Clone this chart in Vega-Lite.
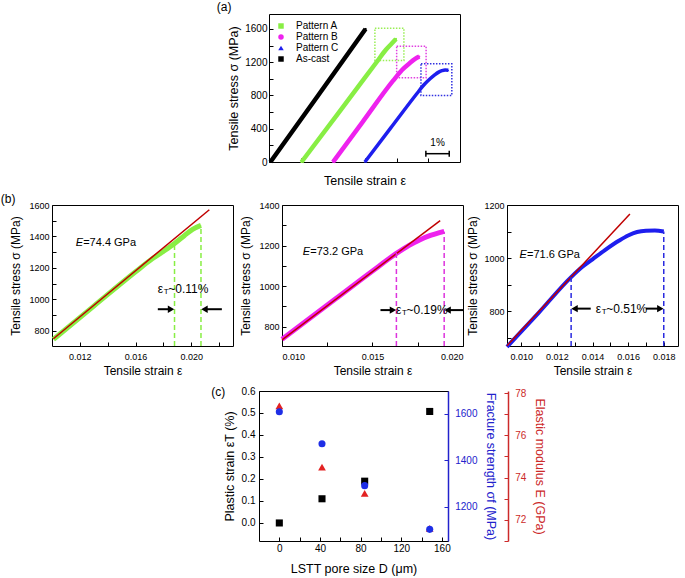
{
 "$schema": "https://vega.github.io/schema/vega-lite/v6.json",
 "background": "white",
 "padding": {"left": 0, "top": 0, "right": 0, "bottom": 0},
 "autosize": {"type": "pad"},
 "config": {
  "font": "Liberation Sans",
  "view": {"stroke": "black", "strokeWidth": 1},
  "axis": {"domain": false, "grid": false, "tickSize": -4, "tickColor": "black", "tickWidth": 1, "labelPadding": 7, "labelFontSize": 10, "labelColor": "black", "labelOverlap": false, "titleFontSize": 12.5, "titleFontWeight": "normal", "titleColor": "black", "labelFont": "Liberation Sans", "titleFont": "Liberation Sans"},
  "text": {"font": "Liberation Sans", "color": "black"},
  "legend": {"labelFont": "Liberation Sans"}
 },
 "datasets": {
  "aCurves": [
   {"s": "As-cast", "x": 0.06, "y": 0}, {"s": "As-cast", "x": 2.1, "y": 800}, {"s": "As-cast", "x": 4.13, "y": 1600},
   {"s": "Pattern A", "x": 1.39, "y": 0}, {"s": "Pattern A", "x": 3.0, "y": 600}, {"s": "Pattern A", "x": 4.6, "y": 1200}, {"s": "Pattern A", "x": 5.0, "y": 1350}, {"s": "Pattern A", "x": 5.25, "y": 1425}, {"s": "Pattern A", "x": 5.43, "y": 1480},
   {"s": "Pattern B", "x": 2.74, "y": 0}, {"s": "Pattern B", "x": 4.0, "y": 480}, {"s": "Pattern B", "x": 5.3, "y": 975}, {"s": "Pattern B", "x": 5.7, "y": 1110}, {"s": "Pattern B", "x": 6.0, "y": 1185}, {"s": "Pattern B", "x": 6.25, "y": 1240}, {"s": "Pattern B", "x": 6.43, "y": 1268},
   {"s": "Pattern C", "x": 4.1, "y": 0}, {"s": "Pattern C", "x": 5.2, "y": 407}, {"s": "Pattern C", "x": 6.32, "y": 821}, {"s": "Pattern C", "x": 6.6, "y": 920}, {"s": "Pattern C", "x": 6.89, "y": 1001}, {"s": "Pattern C", "x": 7.1, "y": 1050}, {"s": "Pattern C", "x": 7.24, "y": 1078}, {"s": "Pattern C", "x": 7.4, "y": 1098}, {"s": "Pattern C", "x": 7.53, "y": 1106}, {"s": "Pattern C", "x": 7.67, "y": 1103}
  ],
  "aBoxes": [
   {"s": "Pattern A", "x1": 4.53, "x2": 5.77, "y1": 1220, "y2": 1609},
   {"s": "Pattern B", "x1": 5.46, "x2": 6.72, "y1": 1013, "y2": 1393},
   {"s": "Pattern C", "x1": 6.5, "x2": 7.82, "y1": 801, "y2": 1181}
  ],
  "b1c": [{"x": 0.0101, "y": 745}, {"x": 0.013, "y": 957}, {"x": 0.016, "y": 1175}, {"x": 0.0172, "y": 1258}, {"x": 0.018, "y": 1305}, {"x": 0.0188, "y": 1355}, {"x": 0.0195, "y": 1405}, {"x": 0.0201, "y": 1445}, {"x": 0.0207, "y": 1470}],
  "b1f": [{"x": 0.0101, "y": 749}, {"x": 0.0213, "y": 1570}],
  "b1d": [{"x": 0.0188, "y": 1355, "y0": 703}, {"x": 0.0207, "y": 1468, "y0": 703}],
  "b1a": [{"x1": 0.0176, "hx": 0.01855, "y": 937, "dir": "r"}, {"x1": 0.0222, "hx": 0.02095, "y": 937, "dir": "l"}],
  "b2c": [{"x": 0.01, "y": 738}, {"x": 0.013, "y": 940}, {"x": 0.015, "y": 1075}, {"x": 0.0163, "y": 1160}, {"x": 0.017, "y": 1200}, {"x": 0.0176, "y": 1228}, {"x": 0.0182, "y": 1250}, {"x": 0.0187, "y": 1264}, {"x": 0.01896, "y": 1270}],
  "b2f": [{"x": 0.01, "y": 735}, {"x": 0.01874, "y": 1323}],
  "b2d": [{"x": 0.01632, "y": 1163, "y0": 705}, {"x": 0.01896, "y": 1268, "y0": 705}],
  "b2a": [{"x1": 0.01544, "hx": 0.01613, "y": 882, "dir": "r"}, {"x1": 0.02, "hx": 0.01915, "y": 882, "dir": "l"}],
  "b3c": [{"x": 0.0092, "y": 665}, {"x": 0.011, "y": 795}, {"x": 0.0128, "y": 928}, {"x": 0.0134, "y": 965}, {"x": 0.014, "y": 995}, {"x": 0.0147, "y": 1030}, {"x": 0.0155, "y": 1066}, {"x": 0.016, "y": 1085}, {"x": 0.0165, "y": 1098}, {"x": 0.017, "y": 1103}, {"x": 0.0175, "y": 1104}, {"x": 0.018, "y": 1100}],
  "b3f": [{"x": 0.0092, "y": 669}, {"x": 0.0161, "y": 1166}],
  "b3d": [{"x": 0.0128, "y": 928, "y0": 668}, {"x": 0.018, "y": 1100, "y0": 668}],
  "b3a": [{"x1": 0.0139, "hx": 0.01299, "y": 809, "dir": "l"}, {"x1": 0.017, "hx": 0.01781, "y": 809, "dir": "r"}],
  "cPts": [
   {"d": 0, "p": 0.0, "f": 1608, "e": 77.4},
   {"d": 42, "p": 0.11, "f": 1470, "e": 74.5},
   {"d": 84, "p": 0.19, "f": 1290, "e": 73.25},
   {"d": 148, "p": 0.507, "f": 1102, "e": 71.6}
  ]
 },
 "vconcat": [
  {
   "vconcat": [
    {
     "hconcat": [
      {"width": 269, "height": 1, "view": {"stroke": null}, "data": {"values": []}, "mark": {"type": "point", "opacity": 0}},
      {
       "width": 191, "height": 148,
       "layer": [
        {"data": {"name": "aBoxes"},
         "mark": {"type": "rect", "fillOpacity": 0, "strokeWidth": 1.5, "strokeDash": [1.5, 1.5]},
         "encoding": {
          "x": {"field": "x1", "type": "quantitative", "scale": {"domain": [0, 8.17], "nice": false, "zero": false}, "axis": {"labels": false, "values": [1.38, 2.74, 4.1, 5.46, 6.82], "tickCount": 100, "title": "Tensile strain ε", "titlePadding": 12}},
          "x2": {"field": "x2"},
          "y": {"field": "y1", "type": "quantitative", "scale": {"domain": [0, 1780], "nice": false, "zero": false}, "axis": {"values": [0, 200, 400, 600, 800, 1000, 1200, 1400, 1600], "tickCount": 100, "format": "d", "labelExpr": "datum.value % 400 === 0 ? datum.label : ''", "labelPadding": 6, "title": "Tensile stress σ (MPa)", "titlePadding": 4}},
          "y2": {"field": "y2"},
          "stroke": {"field": "s", "type": "nominal", "scale": {"domain": ["Pattern A", "Pattern B", "Pattern C"], "range": ["#99ee55", "#e040e0", "#3030e0"]}, "legend": null}
         }},
        {"data": {"name": "aCurves"}, "transform": [{"filter": "datum.s === 'As-cast'"}], "mark": {"type": "line", "color": "#000000", "strokeWidth": 4.5}, "encoding": {"x": {"field": "x", "type": "quantitative"}, "y": {"field": "y", "type": "quantitative"}}},
        {"data": {"name": "aCurves"}, "transform": [{"filter": "datum.s === 'Pattern A'"}], "mark": {"type": "line", "color": "#88ee44", "strokeWidth": 4.5, "interpolate": "monotone"}, "encoding": {"x": {"field": "x", "type": "quantitative"}, "y": {"field": "y", "type": "quantitative"}}},
        {"data": {"name": "aCurves"}, "transform": [{"filter": "datum.s === 'Pattern B'"}], "mark": {"type": "line", "color": "#ee22ee", "strokeWidth": 4.5, "interpolate": "monotone"}, "encoding": {"x": {"field": "x", "type": "quantitative"}, "y": {"field": "y", "type": "quantitative"}}},
        {"data": {"name": "aCurves"}, "transform": [{"filter": "datum.s === 'Pattern C'"}], "mark": {"type": "line", "color": "#1e1eee", "strokeWidth": 3.5, "interpolate": "monotone"}, "encoding": {"x": {"field": "x", "type": "quantitative"}, "y": {"field": "y", "type": "quantitative"}}},
        {"data": {"name": "aCurves"}, "mark": {"type": "point", "filled": true, "size": 4, "opacity": 1},
         "encoding": {
          "x": {"field": "x", "type": "quantitative"}, "y": {"field": "y", "type": "quantitative"},
          "color": {"field": "s", "type": "nominal", "scale": {"domain": ["Pattern A", "Pattern B", "Pattern C", "As-cast"], "range": ["#88ee44", "#ee22ee", "#1e1eee", "#000000"]}, "legend": {"title": null, "orient": "top-left", "offset": 7, "padding": 0, "labelFontSize": 10, "labelOffset": 10, "symbolSize": 30, "rowPadding": 1, "symbolStrokeWidth": 0}},
          "shape": {"field": "s", "type": "nominal", "scale": {"domain": ["Pattern A", "Pattern B", "Pattern C", "As-cast"], "range": ["square", "circle", "triangle-up", "square"]}, "legend": {"title": null, "orient": "top-left", "offset": 7, "padding": 0, "labelFontSize": 10, "labelOffset": 10, "symbolSize": 30, "rowPadding": 1, "symbolStrokeWidth": 0}}
         }},
        {"data": {"values": [{"x1": 6.71, "x2": 7.71, "y": 100}]}, "mark": {"type": "rule", "color": "black", "strokeWidth": 1.5}, "encoding": {"x": {"field": "x1", "type": "quantitative"}, "x2": {"field": "x2"}, "y": {"field": "y", "type": "quantitative"}}},
        {"data": {"values": [{"x": 6.71, "y1": 64, "y2": 136}, {"x": 7.71, "y1": 64, "y2": 136}]}, "mark": {"type": "rule", "color": "black", "strokeWidth": 1.5}, "encoding": {"x": {"field": "x", "type": "quantitative"}, "y": {"field": "y1", "type": "quantitative"}, "y2": {"field": "y2"}}},
        {"data": {"values": [{"x": 7.21, "y": 228, "t": "1%"}]}, "mark": {"type": "text", "fontSize": 10, "align": "center", "baseline": "middle"}, "encoding": {"x": {"field": "x", "type": "quantitative"}, "y": {"field": "y", "type": "quantitative"}, "text": {"field": "t"}}},
        {"data": {"values": [{"x": -1.92, "y": 1862, "t": "(a)"}]}, "mark": {"type": "text", "fontSize": 12, "align": "center", "baseline": "middle"}, "encoding": {"x": {"field": "x", "type": "quantitative"}, "y": {"field": "y", "type": "quantitative"}, "text": {"field": "t"}}}
       ]
      }
     ],
     "spacing": 0, "bounds": "flush",
     "resolve": {"scale": {"color": "independent", "shape": "independent", "stroke": "independent"}, "legend": {"color": "independent", "shape": "independent"}}
    },
    {
     "hconcat": [
      {"width": 52, "height": 1, "view": {"stroke": null}, "data": {"values": []}, "mark": {"type": "point", "opacity": 0}},
      {
       "width": 181, "height": 141,
       "layer": [
        {"data": {"name": "b1c"}, "mark": {"type": "line", "color": "#88ee44", "strokeWidth": 5, "interpolate": "monotone"},
         "encoding": {
          "x": {"field": "x", "type": "quantitative", "scale": {"domain": [0.01, 0.023], "nice": false, "zero": false}, "axis": {"values": [0.012, 0.014, 0.016, 0.018, 0.02, 0.022], "tickCount": 100, "format": ".3f", "labelExpr": "indexof(['0.012','0.016','0.020'], datum.label) >= 0 ? datum.label : ''", "labelFontSize": 9, "labelPadding": 10, "title": "Tensile strain ε", "titleFontSize": 12, "titlePadding": 4}},
          "y": {"field": "y", "type": "quantitative", "scale": {"domain": [703, 1600], "nice": false, "zero": false}, "axis": {"values": [800, 900, 1000, 1100, 1200, 1300, 1400, 1500, 1600], "tickCount": 100, "format": "d", "labelExpr": "datum.value % 200 === 0 ? datum.label : ''", "labelFontSize": 9, "labelPadding": 7, "title": "Tensile stress σ (MPa)", "titleFontSize": 12, "titlePadding": 6}}
         }},
        {"data": {"name": "b1f"}, "mark": {"type": "line", "color": "#c00000", "strokeWidth": 1.5}, "encoding": {"x": {"field": "x", "type": "quantitative"}, "y": {"field": "y", "type": "quantitative"}}},
        {"data": {"name": "b1d"}, "mark": {"type": "rule", "color": "#88ee44", "strokeWidth": 1.5, "strokeDash": [5, 3]}, "encoding": {"x": {"field": "x", "type": "quantitative"}, "y": {"field": "y0", "type": "quantitative"}, "y2": {"field": "y"}}},
        {"data": {"name": "b1a"}, "mark": {"type": "rule", "color": "black", "strokeWidth": 2}, "encoding": {"x": {"field": "x1", "type": "quantitative"}, "x2": {"field": "hx"}, "y": {"field": "y", "type": "quantitative"}}},
        {"data": {"name": "b1a"}, "transform": [{"filter": "datum.dir === 'r'"}], "mark": {"type": "point", "shape": "triangle-right", "filled": true, "color": "black", "size": 55, "opacity": 1}, "encoding": {"x": {"field": "hx", "type": "quantitative"}, "y": {"field": "y", "type": "quantitative"}}},
        {"data": {"name": "b1a"}, "transform": [{"filter": "datum.dir === 'l'"}], "mark": {"type": "point", "shape": "triangle-left", "filled": true, "color": "black", "size": 55, "opacity": 1}, "encoding": {"x": {"field": "hx", "type": "quantitative"}, "y": {"field": "y", "type": "quantitative"}}},
        {"data": {"values": [{"x": 0.0117, "y": 1360}]}, "mark": {"type": "text", "text": "E", "fontStyle": "italic", "fontSize": 11, "align": "left", "baseline": "middle"}, "encoding": {"x": {"field": "x", "type": "quantitative"}, "y": {"field": "y", "type": "quantitative"}}},
        {"data": {"values": [{"x": 0.0117, "y": 1360}]}, "mark": {"type": "text", "text": "=74.4 GPa", "fontSize": 11, "align": "left", "baseline": "middle", "dx": 7.5}, "encoding": {"x": {"field": "x", "type": "quantitative"}, "y": {"field": "y", "type": "quantitative"}}},
        {"data": {"values": [{"x": 0.0176, "y": 1063}]}, "mark": {"type": "text", "text": "ε", "fontSize": 12, "align": "left", "baseline": "middle"}, "encoding": {"x": {"field": "x", "type": "quantitative"}, "y": {"field": "y", "type": "quantitative"}}},
        {"data": {"values": [{"x": 0.0176, "y": 1063}]}, "mark": {"type": "text", "text": "T", "fontSize": 8, "align": "left", "baseline": "middle", "dx": 6, "dy": 3}, "encoding": {"x": {"field": "x", "type": "quantitative"}, "y": {"field": "y", "type": "quantitative"}}},
        {"data": {"values": [{"x": 0.0176, "y": 1063}]}, "mark": {"type": "text", "text": "~0.11%", "fontSize": 12, "align": "left", "baseline": "middle", "dx": 10.5}, "encoding": {"x": {"field": "x", "type": "quantitative"}, "y": {"field": "y", "type": "quantitative"}}},
        {"data": {"values": [{"x": 0.00685, "y": 1640}]}, "mark": {"type": "text", "text": "(b)", "fontSize": 12, "align": "center", "baseline": "middle"}, "encoding": {"x": {"field": "x", "type": "quantitative"}, "y": {"field": "y", "type": "quantitative"}}}
       ]
      },
      {"width": 49, "height": 1, "view": {"stroke": null}, "data": {"values": []}, "mark": {"type": "point", "opacity": 0}},
      {
       "width": 181, "height": 141,
       "layer": [
        {"data": {"name": "b2c"}, "mark": {"type": "line", "color": "#ee22ee", "strokeWidth": 5, "interpolate": "monotone"},
         "encoding": {
          "x": {"field": "x", "type": "quantitative", "scale": {"domain": [0.01, 0.02], "nice": false, "zero": false}, "axis": {"values": [0.01, 0.0125, 0.015, 0.0175, 0.02], "tickCount": 100, "format": ".3f", "labelExpr": "indexof(['0.010','0.015','0.020'], datum.label) >= 0 ? datum.label : ''", "labelFontSize": 9, "labelPadding": 10, "title": "Tensile strain ε", "titleFontSize": 12, "titlePadding": 4}},
          "y": {"field": "y", "type": "quantitative", "scale": {"domain": [705, 1400], "nice": false, "zero": false}, "axis": {"values": [800, 900, 1000, 1100, 1200, 1300, 1400], "tickCount": 100, "format": "d", "labelExpr": "datum.value % 200 === 0 ? datum.label : ''", "labelFontSize": 9, "labelPadding": 7, "title": "Tensile stress σ (MPa)", "titleFontSize": 12, "titlePadding": 6}}
         }},
        {"data": {"name": "b2f"}, "mark": {"type": "line", "color": "#c00000", "strokeWidth": 1.5}, "encoding": {"x": {"field": "x", "type": "quantitative"}, "y": {"field": "y", "type": "quantitative"}}},
        {"data": {"name": "b2d"}, "mark": {"type": "rule", "color": "#dd33dd", "strokeWidth": 1.5, "strokeDash": [5, 3]}, "encoding": {"x": {"field": "x", "type": "quantitative"}, "y": {"field": "y0", "type": "quantitative"}, "y2": {"field": "y"}}},
        {"data": {"name": "b2a"}, "mark": {"type": "rule", "color": "black", "strokeWidth": 2}, "encoding": {"x": {"field": "x1", "type": "quantitative"}, "x2": {"field": "hx"}, "y": {"field": "y", "type": "quantitative"}}},
        {"data": {"name": "b2a"}, "transform": [{"filter": "datum.dir === 'r'"}], "mark": {"type": "point", "shape": "triangle-right", "filled": true, "color": "black", "size": 55, "opacity": 1}, "encoding": {"x": {"field": "hx", "type": "quantitative"}, "y": {"field": "y", "type": "quantitative"}}},
        {"data": {"name": "b2a"}, "transform": [{"filter": "datum.dir === 'l'"}], "mark": {"type": "point", "shape": "triangle-left", "filled": true, "color": "black", "size": 55, "opacity": 1}, "encoding": {"x": {"field": "hx", "type": "quantitative"}, "y": {"field": "y", "type": "quantitative"}}},
        {"data": {"values": [{"x": 0.01115, "y": 1167}]}, "mark": {"type": "text", "text": "E", "fontStyle": "italic", "fontSize": 11, "align": "left", "baseline": "middle"}, "encoding": {"x": {"field": "x", "type": "quantitative"}, "y": {"field": "y", "type": "quantitative"}}},
        {"data": {"values": [{"x": 0.01115, "y": 1167}]}, "mark": {"type": "text", "text": "=73.2 GPa", "fontSize": 11, "align": "left", "baseline": "middle", "dx": 7.5}, "encoding": {"x": {"field": "x", "type": "quantitative"}, "y": {"field": "y", "type": "quantitative"}}},
        {"data": {"values": [{"x": 0.0163, "y": 882}]}, "mark": {"type": "text", "text": "ε", "fontSize": 12, "align": "left", "baseline": "middle"}, "encoding": {"x": {"field": "x", "type": "quantitative"}, "y": {"field": "y", "type": "quantitative"}}},
        {"data": {"values": [{"x": 0.0163, "y": 882}]}, "mark": {"type": "text", "text": "T", "fontSize": 8, "align": "left", "baseline": "middle", "dx": 6, "dy": 3}, "encoding": {"x": {"field": "x", "type": "quantitative"}, "y": {"field": "y", "type": "quantitative"}}},
        {"data": {"values": [{"x": 0.0163, "y": 882}]}, "mark": {"type": "text", "text": "~0.19%", "fontSize": 12, "align": "left", "baseline": "middle", "dx": 10.5}, "encoding": {"x": {"field": "x", "type": "quantitative"}, "y": {"field": "y", "type": "quantitative"}}}
       ]
      },
      {"width": 44, "height": 1, "view": {"stroke": null}, "data": {"values": []}, "mark": {"type": "point", "opacity": 0}},
      {
       "width": 171, "height": 141,
       "layer": [
        {"data": {"name": "b3c"}, "mark": {"type": "line", "color": "#1e1eee", "strokeWidth": 4, "interpolate": "monotone"},
         "encoding": {
          "x": {"field": "x", "type": "quantitative", "scale": {"domain": [0.0092, 0.0188], "nice": false, "zero": false}, "axis": {"values": [0.01, 0.011, 0.012, 0.013, 0.014, 0.015, 0.016, 0.017, 0.018], "tickCount": 100, "format": ".3f", "labelExpr": "indexof(['0.010','0.012','0.014','0.016','0.018'], datum.label) >= 0 ? datum.label : ''", "labelFontSize": 9, "labelPadding": 10, "title": "Tensile strain ε", "titleFontSize": 12, "titlePadding": 4}},
          "y": {"field": "y", "type": "quantitative", "scale": {"domain": [668, 1200], "nice": false, "zero": false}, "axis": {"values": [700, 800, 900, 1000, 1100, 1200], "tickCount": 100, "format": "d", "labelExpr": "datum.value % 200 === 0 ? datum.label : ''", "labelFontSize": 9, "labelPadding": 7, "title": "Tensile stress σ (MPa)", "titleFontSize": 12, "titlePadding": 4}}
         }},
        {"data": {"name": "b3f"}, "mark": {"type": "line", "color": "#c00000", "strokeWidth": 1.5}, "encoding": {"x": {"field": "x", "type": "quantitative"}, "y": {"field": "y", "type": "quantitative"}}},
        {"data": {"name": "b3d"}, "mark": {"type": "rule", "color": "#2a2ae0", "strokeWidth": 1.5, "strokeDash": [5, 3]}, "encoding": {"x": {"field": "x", "type": "quantitative"}, "y": {"field": "y0", "type": "quantitative"}, "y2": {"field": "y"}}},
        {"data": {"name": "b3a"}, "mark": {"type": "rule", "color": "black", "strokeWidth": 2}, "encoding": {"x": {"field": "x1", "type": "quantitative"}, "x2": {"field": "hx"}, "y": {"field": "y", "type": "quantitative"}}},
        {"data": {"name": "b3a"}, "transform": [{"filter": "datum.dir === 'r'"}], "mark": {"type": "point", "shape": "triangle-right", "filled": true, "color": "black", "size": 55, "opacity": 1}, "encoding": {"x": {"field": "hx", "type": "quantitative"}, "y": {"field": "y", "type": "quantitative"}}},
        {"data": {"name": "b3a"}, "transform": [{"filter": "datum.dir === 'l'"}], "mark": {"type": "point", "shape": "triangle-left", "filled": true, "color": "black", "size": 55, "opacity": 1}, "encoding": {"x": {"field": "hx", "type": "quantitative"}, "y": {"field": "y", "type": "quantitative"}}},
        {"data": {"values": [{"x": 0.0099, "y": 1012}]}, "mark": {"type": "text", "text": "E", "fontStyle": "italic", "fontSize": 11, "align": "left", "baseline": "middle"}, "encoding": {"x": {"field": "x", "type": "quantitative"}, "y": {"field": "y", "type": "quantitative"}}},
        {"data": {"values": [{"x": 0.0099, "y": 1012}]}, "mark": {"type": "text", "text": "=71.6 GPa", "fontSize": 11, "align": "left", "baseline": "middle", "dx": 7.5}, "encoding": {"x": {"field": "x", "type": "quantitative"}, "y": {"field": "y", "type": "quantitative"}}},
        {"data": {"values": [{"x": 0.01418, "y": 809}]}, "mark": {"type": "text", "text": "ε", "fontSize": 12, "align": "left", "baseline": "middle"}, "encoding": {"x": {"field": "x", "type": "quantitative"}, "y": {"field": "y", "type": "quantitative"}}},
        {"data": {"values": [{"x": 0.01418, "y": 809}]}, "mark": {"type": "text", "text": "T", "fontSize": 8, "align": "left", "baseline": "middle", "dx": 6, "dy": 3}, "encoding": {"x": {"field": "x", "type": "quantitative"}, "y": {"field": "y", "type": "quantitative"}}},
        {"data": {"values": [{"x": 0.01418, "y": 809}]}, "mark": {"type": "text", "text": "~0.51%", "fontSize": 12, "align": "left", "baseline": "middle", "dx": 10.5}, "encoding": {"x": {"field": "x", "type": "quantitative"}, "y": {"field": "y", "type": "quantitative"}}}
       ]
      }
     ],
     "spacing": 0, "bounds": "flush"
    }
   ],
   "spacing": 4
  },
  {
   "hconcat": [
    {"width": 259, "height": 1, "view": {"stroke": null}, "data": {"values": []}, "mark": {"type": "point", "opacity": 0}},
    {
     "width": 189, "height": 150,
     "layer": [
      {"layer": [
        {"data": {"name": "cPts"}, "mark": {"type": "square", "size": 50, "color": "black", "opacity": 1},
         "encoding": {
          "x": {"field": "d", "type": "quantitative", "scale": {"domain": [-20, 166], "nice": false, "zero": false}, "axis": {"values": [0, 20, 40, 60, 80, 100, 120, 140, 160], "tickCount": 100, "labelExpr": "datum.value % 40 === 0 ? datum.label : ''", "labelPadding": 6.5, "title": "LSTT pore size D (μm)", "titlePadding": 9}},
          "y": {"field": "p", "type": "quantitative", "scale": {"domain": [-0.082, 0.6], "nice": false, "zero": false}, "axis": {"values": [0, 0.1, 0.2, 0.3, 0.4, 0.5, 0.6], "tickCount": 100, "format": ".1f", "labelPadding": 8, "title": "Plastic strain εT (%)", "titlePadding": 5}}
         }},
        {"data": {"values": [{"d": -60, "p": 0.594, "t": "(c)"}]}, "mark": {"type": "text", "fontSize": 12, "align": "center", "baseline": "middle"}, "encoding": {"x": {"field": "d", "type": "quantitative"}, "y": {"field": "p", "type": "quantitative"}, "text": {"field": "t"}}}
      ]},
      {"data": {"name": "cPts"}, "mark": {"type": "point", "shape": "triangle-up", "filled": true, "size": 60, "color": "#e32222", "opacity": 1},
       "encoding": {
        "x": {"field": "d", "type": "quantitative"},
        "y": {"field": "e", "type": "quantitative", "scale": {"domain": [71, 78.1], "nice": false, "zero": false}, "axis": {"orient": "right", "offset": 60, "values": [71, 72, 73, 74, 75, 76, 77, 78], "tickCount": 100, "format": "d", "labelExpr": "datum.value % 2 === 0 ? datum.label : ''", "domain": true, "domainColor": "#cc2a2a", "domainWidth": 1.5, "tickColor": "#cc2a2a", "labelColor": "#cc2a2a", "titleColor": "#cc2a2a", "labelPadding": 10.7, "titlePadding": 7, "title": "Elastic modulus E (GPa)"}}
       }},
      {"data": {"name": "cPts"}, "mark": {"type": "circle", "size": 50, "color": "#1e2ee6", "opacity": 1},
       "encoding": {
        "x": {"field": "d", "type": "quantitative"},
        "y": {"field": "f", "type": "quantitative", "scale": {"domain": [1052, 1697], "nice": false, "zero": false}, "axis": {"orient": "right", "values": [1200, 1400, 1600], "tickCount": 100, "format": "d", "domain": true, "domainColor": "#2222cc", "domainWidth": 1.5, "tickColor": "#2222cc", "labelColor": "#2222cc", "titleColor": "#2222cc", "labelPadding": 10.7, "titlePadding": 7, "title": "Fracture strength σf (MPa)"}}
       }}
     ],
     "resolve": {"scale": {"y": "independent"}, "axis": {"y": "independent"}}
    }
   ],
   "spacing": 0, "bounds": "flush"
  }
 ],
 "spacing": 8
}
